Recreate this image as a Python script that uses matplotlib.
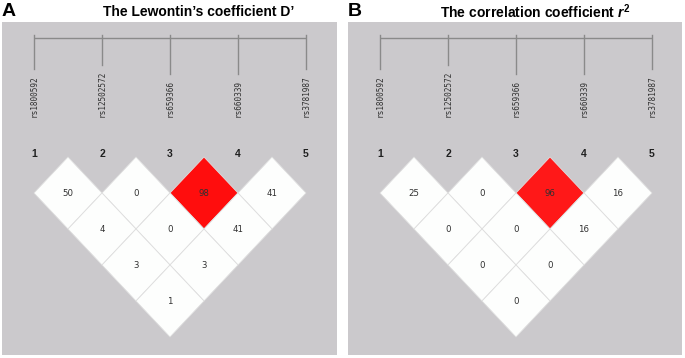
import matplotlib
matplotlib.use("Agg")
import matplotlib.pyplot as plt
from matplotlib.patches import Polygon

# SNP names shown above the LD triangles
snps = ["rs1800592", "rs12502572", "rs659366", "rs660339", "rs3781987"]

# marker pairs (i, j), 1-based
pairs = [(1, 2), (2, 3), (3, 4), (4, 5),
         (1, 3), (2, 4), (3, 5),
         (1, 4), (2, 5),
         (1, 5)]

# values of D' and r^2 (x100) for every pair
dprime = [50, 0, 98, 41, 4, 0, 41, 3, 3, 1]
r2 = [25, 0, 96, 16, 0, 0, 16, 0, 0, 0]

# cell colour for every pair
dprime_col = ["#fdfefd", "#fdfefd", "#ff0d0d", "#fdfefd", "#fdfefd",
              "#fdfefd", "#fdfefd", "#fdfefd", "#fdfefd", "#fdfefd"]
r2_col = ["#fdfefd", "#fdfefd", "#ff1818", "#fdfefd", "#fdfefd",
          "#fdfefd", "#fdfefd", "#fdfefd", "#fdfefd", "#fdfefd"]

W, H = 685, 358
BG = "#cbc9cc"

plt.rcParams["font.family"] = ["Liberation Sans", "DejaVu Sans"]
plt.rcParams["mathtext.fontset"] = "custom"
plt.rcParams["mathtext.it"] = "Liberation Sans:italic:bold"
plt.rcParams["mathtext.rm"] = "Liberation Sans:bold"

fig = plt.figure(figsize=(W / 100, H / 100), dpi=100)
fig.patch.set_facecolor("white")


def ld_panel(box, snp1_px, values, colors, letter, title, title_x):
    left, right, top, bottom = box
    sp = 68.0      # pixels between markers
    y0 = 157.0     # pixel row of the top vertices
    dy = 72.0      # pixels per depth unit

    ax = fig.add_axes([left / W, 1 - bottom / H, (right - left) / W, (bottom - top) / H])
    ax.set_facecolor(BG)
    ax.set_xlim(1 - (snp1_px - left) / sp, 1 + (right - snp1_px) / sp)
    ax.set_ylim((bottom - y0) / dy, (top - y0) / dy)
    for s in ax.spines.values():
        s.set_visible(False)
    ax.set_xticks([])
    ax.set_yticks([])

    n = len(snps)
    # diamonds
    for (i, j), v, c in zip(pairs, values, colors):
        cx = (i + j) / 2
        cy = (j - i) / 2
        poly = Polygon([(cx, cy - 0.5), (cx + 0.5, cy), (cx, cy + 0.5), (cx - 0.5, cy)],
                       closed=True, facecolor=c, edgecolor="#dedede", lw=0.6)
        ax.add_patch(poly)
        ax.text(cx, cy, str(v), ha="center", va="center", fontsize=6.2,
                color="#303030", family="DejaVu Sans")

    # marker numbers
    for k in range(1, n + 1):
        ax.text(k, -0.04, str(k), ha="center", va="center", fontsize=7.5,
                fontweight="bold", color="#202020")

    # SNP names
    labels = []
    for k, name in enumerate(snps, start=1):
        t = ax.text(k, (117 - y0) / dy, name, rotation=90, ha="center", va="bottom",
                    fontsize=5.6, family="DejaVu Sans Mono", color="#303030")
        labels.append(t)

    # bracket on top
    ybar = (37.5 - y0) / dy
    ax.plot([1, n], [ybar, ybar], color="#8a8a8a", lw=1.0, solid_capstyle="butt")
    fig.canvas.draw()
    inv = ax.transData.inverted()
    for k, t in enumerate(labels, start=1):
        bb = t.get_window_extent()
        ytop = inv.transform((0, bb.y1 + 6))[1]
        ax.plot([k, k], [(35 - y0) / dy, ytop], color="#8a8a8a", lw=1.0)

    fig.text(left / W, 1 - 11 / H, letter, ha="left", va="center",
             fontsize=14, fontweight="bold")
    fig.text(title_x / W, 1 - 12 / H, title, ha="center", va="center",
             fontsize=10, fontweight="bold")


ld_panel((2, 337, 22, 355), 34, dprime, dprime_col, "A",
         "The Lewontin\u2019s coefficient D\u2019", 199)
ld_panel((348, 682, 22, 355), 380, r2, r2_col, "B",
         r"The correlation coefficient $\mathit{r}^{2}$", 535)

fig.savefig("out.png", dpi=100, facecolor="white")
